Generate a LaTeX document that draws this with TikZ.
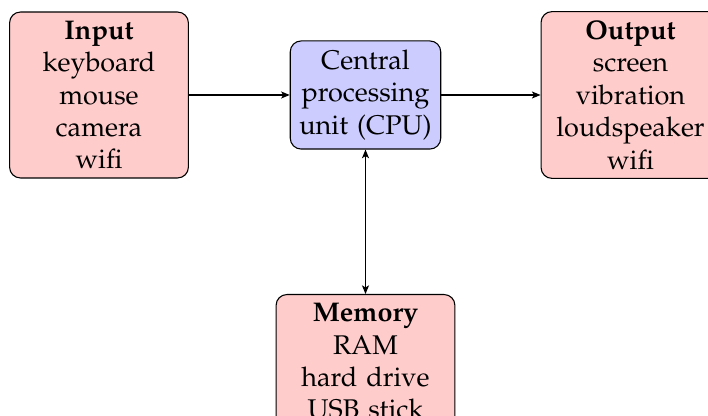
\documentclass[tikz,border=0pt]{standalone}
\usepackage[T1]{fontenc}
\usepackage{mathpazo}
\usetikzlibrary{arrows.meta}
\definecolor{boxred}{RGB}{255,204,204}
\definecolor{boxblue}{RGB}{204,204,255}
\tikzset{
  redbox/.style={draw=black, fill=boxred, rounded corners=4pt, align=center, text width=59.5pt, inner sep=3.33pt},
  cpubox/.style={draw=black, fill=boxblue, rounded corners=4pt, align=center, text width=49pt, inner sep=3.33pt},
  conn/.style={line width=0.4pt, -{Stealth[length=3.2pt,width=2.6pt,inset=0.8pt]}},
  biconn/.style={line width=0.4pt, {Stealth[length=3.2pt,width=2.6pt,inset=0.8pt]}-{Stealth[length=3.2pt,width=2.6pt,inset=0.8pt]}}
}
\begin{document}
\begin{tikzpicture}[x=0.37pt,y=-0.37pt]
\useasboundingbox (0,0) rectangle (708,416);
\clip (0,0) rectangle (708,416);
\node[redbox] (in) at (99,95) {\textbf{Input}\\keyboard\\mouse\\camera\\wifi};
\node[cpubox] (cpu) at (365.5,95) {Central\\processing\\unit (CPU)};
\node[redbox] (out) at (630.5,95) {\textbf{Output}\\screen\\vibration\\loudspeaker\\wifi};
\node[redbox, anchor=north] (mem) at (365.5,294) {\textbf{Memory}\\RAM\\hard drive\\USB stick};
\draw[conn] (in) -- (cpu);
\draw[conn] (cpu) -- (out);
\draw[biconn] (cpu) -- (mem);
\end{tikzpicture}
\end{document}
